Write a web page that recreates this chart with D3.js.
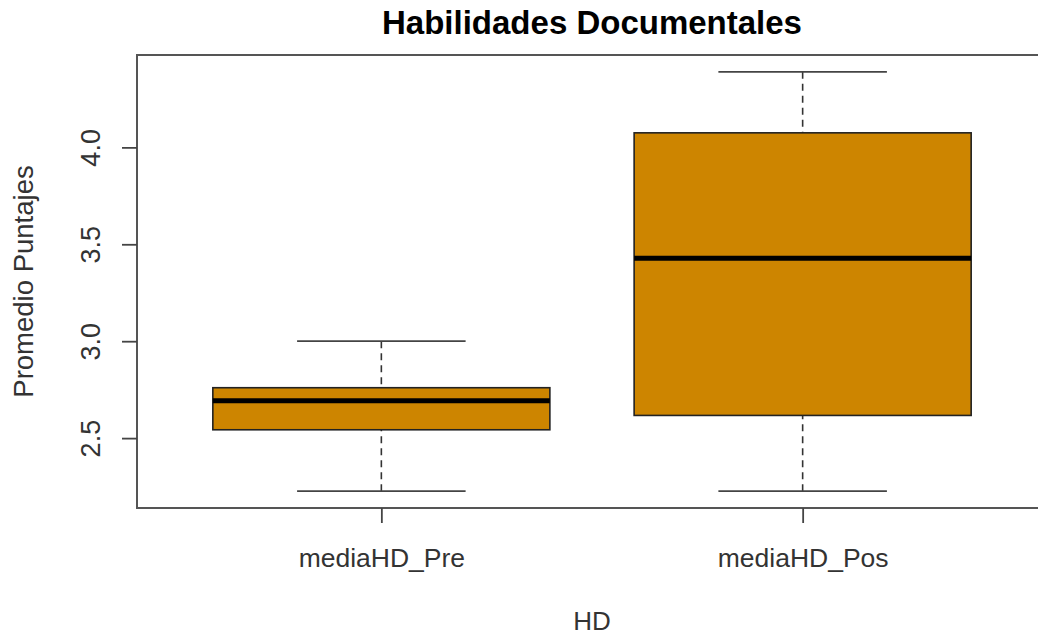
<!DOCTYPE html>
<html>
<head>
<meta charset="utf-8">
<script src="https://cdn.jsdelivr.net/npm/d3@7"></script>
<style>
  html, body { margin: 0; padding: 0; background: #fff; }
  svg { display: block; }
  text { font-family: "Liberation Sans", Arial, sans-serif; }
</style>
</head>
<body>
<svg id="chart" width="1038" height="637"></svg>
<script>
// ---- data ----
const categories = ["mediaHD_Pre", "mediaHD_Pos"];
const whiskerLow  = [2.226, 2.226];
const q1Values    = [2.543, 2.617];
const medians     = [2.693, 3.428];
const q3Values    = [2.760, 4.075];
const whiskerHigh = [3.000, 4.390];
const yTicks      = [2.5, 3.0, 3.5, 4.0];
const titleText = "Habilidades Documentales";
const xLabel = "HD";
const yLabel = "Promedio Puntajes";

const boxes = categories.map((c, i) => ({
  name: c, pos: i + 1,
  lo: whiskerLow[i], q1: q1Values[i], med: medians[i], q3: q3Values[i], hi: whiskerHigh[i]
}));

const svg = d3.select("#chart");
const plotL = 137, plotR = 1047, plotT = 55, plotB = 508;

// R-style 4% extension
const yMin = d3.min(whiskerLow), yMax = d3.max(whiskerHigh);
const pad = (yMax - yMin) * 0.04;
const y = d3.scaleLinear().domain([yMin - pad, yMax + pad]).range([plotB, plotT]);
const x = d3.scaleLinear().domain([0.5 - 0.08, 2.5 + 0.08]).range([plotL, plotR]);

const fill = "#CD8500";
const stroke = "#222";

const g = svg.append("g");

// whiskers (dashed)
g.selectAll(".wlo").data(boxes).join("line")
  .attr("x1", d => x(d.pos)).attr("x2", d => x(d.pos))
  .attr("y1", d => y(d.lo)).attr("y2", d => y(d.q1))
  .attr("stroke", "#333").attr("stroke-width", 1.6).attr("stroke-dasharray", "7,5");
g.selectAll(".whi").data(boxes).join("line")
  .attr("x1", d => x(d.pos)).attr("x2", d => x(d.pos))
  .attr("y1", d => y(d.hi)).attr("y2", d => y(d.q3))
  .attr("stroke", "#333").attr("stroke-width", 1.6).attr("stroke-dasharray", "7,5");

// staples
["lo", "hi"].forEach(k => {
  g.selectAll(".cap" + k).data(boxes).join("line")
    .attr("x1", d => x(d.pos - 0.2)).attr("x2", d => x(d.pos + 0.2))
    .attr("y1", d => y(d[k])).attr("y2", d => y(d[k]))
    .attr("stroke", "#444").attr("stroke-width", 1.8);
});

// boxes
g.selectAll(".box").data(boxes).join("rect")
  .attr("x", d => x(d.pos - 0.4)).attr("width", d => x(d.pos + 0.4) - x(d.pos - 0.4))
  .attr("y", d => y(d.q3)).attr("height", d => y(d.q1) - y(d.q3))
  .attr("fill", fill).attr("stroke", stroke).attr("stroke-width", 1.6);

// medians
g.selectAll(".med").data(boxes).join("line")
  .attr("x1", d => x(d.pos - 0.4)).attr("x2", d => x(d.pos + 0.4))
  .attr("y1", d => y(d.med)).attr("y2", d => y(d.med))
  .attr("stroke", "#000").attr("stroke-width", 5);

// plot frame
svg.append("rect")
  .attr("x", plotL).attr("y", plotT)
  .attr("width", plotR - plotL).attr("height", plotB - plotT)
  .attr("fill", "none").attr("stroke", "#555").attr("stroke-width", 2);

// y axis
const yAxis = d3.axisLeft(y).tickValues(yTicks).tickFormat(d3.format(".1f")).tickSize(15).tickPadding(0);
const ya = svg.append("g").attr("transform", `translate(${plotL},0)`).call(yAxis);
ya.select(".domain").remove();
ya.selectAll(".tick line").attr("stroke", "#444").attr("stroke-width", 1.8);
ya.selectAll(".tick text")
  .attr("transform", "rotate(-90)")
  .attr("x", 0).attr("y", -37).attr("dy", 0)
  .attr("text-anchor", "middle")
  .attr("fill", "#333")
  .style("font-size", "27px");

// x axis
const xAxis = d3.axisBottom(x).tickValues(boxes.map(d => d.pos)).tickFormat((d, i) => categories[i]).tickSize(15).tickPadding(0);
const xa = svg.append("g").attr("transform", `translate(0,${plotB})`).call(xAxis);
xa.select(".domain").remove();
xa.selectAll(".tick line").attr("stroke", "#444").attr("stroke-width", 1.8);
xa.selectAll(".tick text")
  .attr("y", 59).attr("dy", 0)
  .attr("fill", "#333")
  .style("font-size", "26.5px");

// title
svg.append("text")
  .attr("x", (plotL + plotR) / 2).attr("y", 34)
  .attr("text-anchor", "middle")
  .style("font-size", "33px").style("font-weight", "bold")
  .attr("fill", "#000")
  .text(titleText);

// axis titles
svg.append("text")
  .attr("x", (plotL + plotR) / 2).attr("y", 630)
  .attr("text-anchor", "middle")
  .attr("fill", "#333")
  .style("font-size", "26px")
  .text(xLabel);

svg.append("text")
  .attr("transform", `translate(33,${(plotT + plotB) / 2}) rotate(-90)`)
  .attr("text-anchor", "middle")
  .attr("fill", "#333")
  .style("font-size", "27.5px")
  .text(yLabel);
</script>
</body>
</html>
